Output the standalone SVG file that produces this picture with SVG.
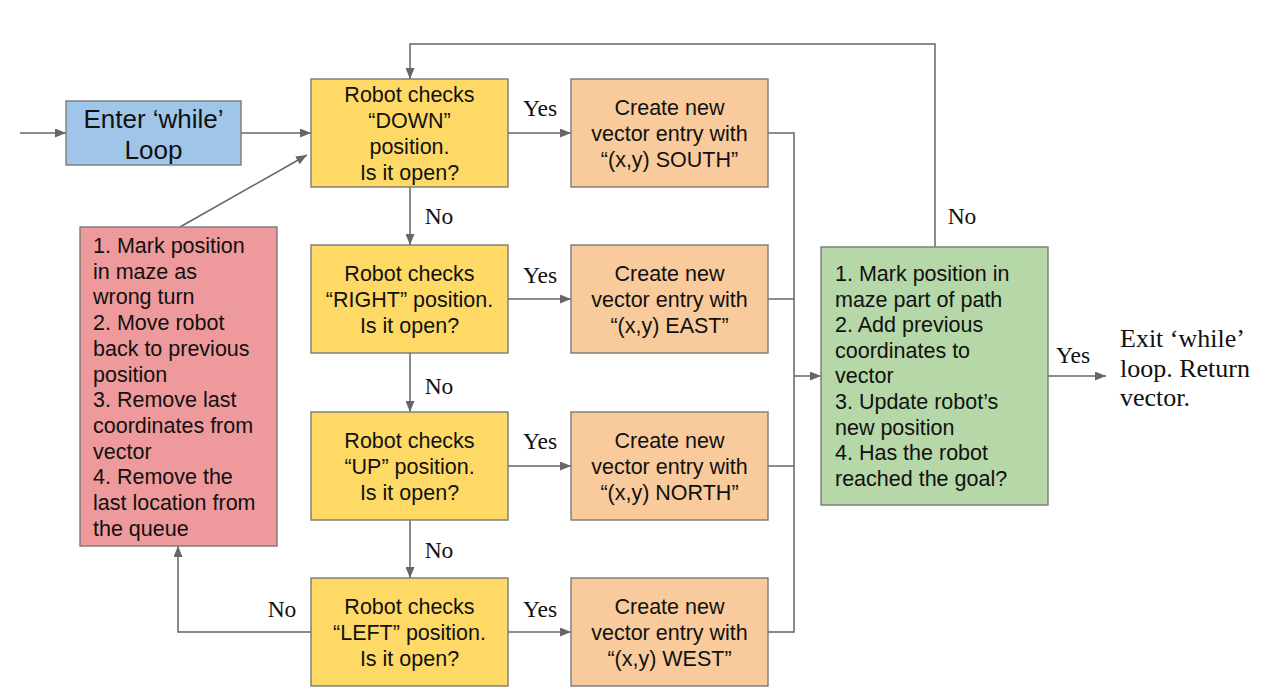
<svg xmlns="http://www.w3.org/2000/svg" width="1271" height="697" viewBox="0 0 1271 697">
<defs>
<marker id="ah" markerUnits="userSpaceOnUse" markerWidth="11" markerHeight="9" refX="11" refY="4.5" orient="auto">
<path d="M0,0 L11,4.5 L0,9 z" fill="#666"/>
</marker>
<style>
.box{stroke:#7a7a7a;stroke-width:1.4}
.y{fill:#ffd966}.o{fill:#f9cb9c}.b{fill:#9fc5e8}.r{fill:#ee999c}.g{fill:#b6d7a8}
.t{font-family:"Liberation Sans",Arial,sans-serif;font-size:21.5px;fill:#111}
.c{text-anchor:middle}
.bt{font-family:"Liberation Sans",Arial,sans-serif;font-size:26px;fill:#111;text-anchor:middle}
.s{font-family:"Liberation Serif","Times New Roman",serif;font-size:23.5px;fill:#111}
.ex{font-family:"Liberation Serif","Times New Roman",serif;font-size:26px;fill:#111}
.ln{fill:none;stroke:#666;stroke-width:1.5}
.ar{marker-end:url(#ah)}
</style>
</defs>
<rect width="1271" height="697" fill="#fff"/>

<g id="connectors">
<line class="ln ar" x1="20" y1="133" x2="66" y2="133"/>
<line class="ln ar" x1="241" y1="133" x2="311" y2="133"/>
<line class="ln ar" x1="180" y1="227" x2="307" y2="155"/>
<polyline class="ln ar" points="935,247 935,44 410,44 410,79"/>
<line class="ln ar" x1="410" y1="187" x2="410" y2="245"/>
<line class="ln ar" x1="410" y1="353" x2="410" y2="412"/>
<line class="ln ar" x1="410" y1="520" x2="410" y2="578"/>
<line class="ln ar" x1="508" y1="133" x2="571" y2="133"/>
<line class="ln ar" x1="508" y1="299" x2="571" y2="299"/>
<line class="ln ar" x1="508" y1="466" x2="571" y2="466"/>
<line class="ln ar" x1="508" y1="632" x2="571" y2="632"/>
<polyline class="ln ar" points="311,632 178,632 178,546"/>
<polyline class="ln" points="768,133 794,133 794,632 768,632"/>
<line class="ln" x1="768" y1="299" x2="794" y2="299"/>
<line class="ln" x1="768" y1="466" x2="794" y2="466"/>
<line class="ln ar" x1="794" y1="376" x2="821" y2="376"/>
<line class="ln ar" x1="1048" y1="376" x2="1106" y2="376"/>
<text class="s" x="540" y="116" text-anchor="middle">Yes</text>
<text class="s" x="540" y="283" text-anchor="middle">Yes</text>
<text class="s" x="540" y="449" text-anchor="middle">Yes</text>
<text class="s" x="540" y="617" text-anchor="middle">Yes</text>
<text class="s" x="439" y="224" text-anchor="middle">No</text>
<text class="s" x="439" y="394" text-anchor="middle">No</text>
<text class="s" x="439" y="558" text-anchor="middle">No</text>
<text class="s" x="282" y="617" text-anchor="middle">No</text>
<text class="s" x="962" y="224" text-anchor="middle">No</text>
<text class="s" x="1073" y="363" text-anchor="middle">Yes</text>
</g>

<g id="enter">
<rect class="box b" x="66" y="101" width="175" height="64"/>
<text class="bt" x="153.5" y="128">Enter ‘while’</text>
<text class="bt" x="153.5" y="159">Loop</text>
</g>

<g id="down">
<rect class="box y" x="311" y="79" width="197" height="108"/>
<text class="t c" x="409.5" y="102">Robot checks</text>
<text class="t c" x="409.5" y="128">“DOWN”</text>
<text class="t c" x="409.5" y="154">position.</text>
<text class="t c" x="409.5" y="180">Is it open?</text>
</g>

<g id="right">
<rect class="box y" x="311" y="245" width="197" height="108"/>
<text class="t c" x="409.5" y="281">Robot checks</text>
<text class="t c" x="409.5" y="307">“RIGHT” position.</text>
<text class="t c" x="409.5" y="333">Is it open?</text>
</g>

<g id="up">
<rect class="box y" x="311" y="412" width="197" height="108"/>
<text class="t c" x="409.5" y="448">Robot checks</text>
<text class="t c" x="409.5" y="474">“UP” position.</text>
<text class="t c" x="409.5" y="500">Is it open?</text>
</g>

<g id="left">
<rect class="box y" x="311" y="578" width="197" height="108"/>
<text class="t c" x="409.5" y="614">Robot checks</text>
<text class="t c" x="409.5" y="640">“LEFT” position.</text>
<text class="t c" x="409.5" y="666">Is it open?</text>
</g>

<g id="south">
<rect class="box o" x="571" y="79" width="197" height="108"/>
<text class="t c" x="669.5" y="115">Create new</text>
<text class="t c" x="669.5" y="141">vector entry with</text>
<text class="t c" x="669.5" y="167">“(x,y) SOUTH”</text>
</g>

<g id="east">
<rect class="box o" x="571" y="245" width="197" height="108"/>
<text class="t c" x="669.5" y="281">Create new</text>
<text class="t c" x="669.5" y="307">vector entry with</text>
<text class="t c" x="669.5" y="333">“(x,y) EAST”</text>
</g>

<g id="north">
<rect class="box o" x="571" y="412" width="197" height="108"/>
<text class="t c" x="669.5" y="448">Create new</text>
<text class="t c" x="669.5" y="474">vector entry with</text>
<text class="t c" x="669.5" y="500">“(x,y) NORTH”</text>
</g>

<g id="west">
<rect class="box o" x="571" y="578" width="197" height="108"/>
<text class="t c" x="669.5" y="614">Create new</text>
<text class="t c" x="669.5" y="640">vector entry with</text>
<text class="t c" x="669.5" y="666">“(x,y) WEST”</text>
</g>

<g id="backtrack">
<rect class="box r" x="80" y="227" width="197" height="319"/>
<text class="t" x="93" y="253">1. Mark position</text>
<text class="t" x="93" y="278.7">in maze as</text>
<text class="t" x="93" y="304.4">wrong turn</text>
<text class="t" x="93" y="330.1">2. Move robot</text>
<text class="t" x="93" y="355.8">back to previous</text>
<text class="t" x="93" y="381.5">position</text>
<text class="t" x="93" y="407.2">3. Remove last</text>
<text class="t" x="93" y="432.9">coordinates from</text>
<text class="t" x="93" y="458.6">vector</text>
<text class="t" x="93" y="484.3">4. Remove the</text>
<text class="t" x="93" y="510">last location from</text>
<text class="t" x="93" y="535.7">the queue</text>
</g>

<g id="mark">
<rect class="box g" x="821" y="247" width="227" height="258"/>
<text class="t" x="835" y="281">1. Mark position in</text>
<text class="t" x="835" y="306.6">maze part of path</text>
<text class="t" x="835" y="332.2">2. Add previous</text>
<text class="t" x="835" y="357.8">coordinates to</text>
<text class="t" x="835" y="383.4">vector</text>
<text class="t" x="835" y="409">3. Update robot’s</text>
<text class="t" x="835" y="434.6">new position</text>
<text class="t" x="835" y="460.2">4. Has the robot</text>
<text class="t" x="835" y="485.8">reached the goal?</text>
</g>

<g id="exit">
<text class="ex" x="1120" y="347">Exit ‘while’</text>
<text class="ex" x="1120" y="377">loop. Return</text>
<text class="ex" x="1120" y="406">vector.</text>
</g>
</svg>
